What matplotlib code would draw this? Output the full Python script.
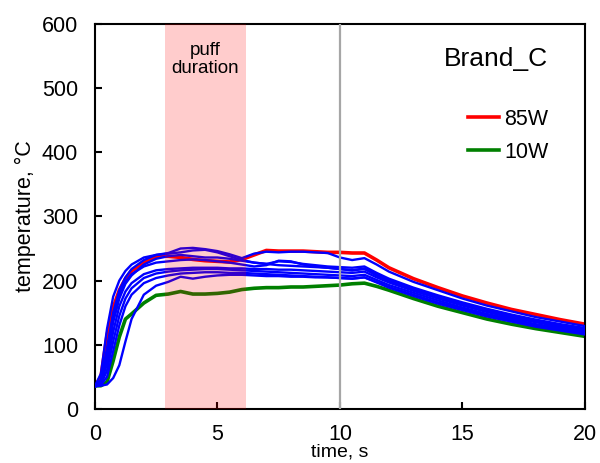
import numpy as np
import matplotlib.pyplot as plt

plt.rcParams['font.family'] = ['Liberation Sans', 'DejaVu Sans']

# time axis, s
time_s = [0, 0.25, 0.5, 0.75, 1, 1.25, 1.5, 2, 2.5, 3, 3.5, 4, 4.5, 5, 5.5, 6,
          6.5, 7, 7.5, 8, 8.5, 9, 9.5, 10, 10.5, 11, 11.5, 12, 13, 14, 15, 16,
          17, 18, 19, 20]

# 85W run (red)
temp_85w = [35, 50, 115, 158, 185, 203, 215, 228, 238, 238, 236, 233, 231, 230, 229, 233,
            240, 247, 246, 246, 246, 245, 244, 244, 243, 243, 232, 220, 203, 189, 176, 165,
            155, 147, 139, 132]

# 10W run (green)
temp_10w = [36, 36, 42, 75, 112, 140, 148, 165, 177, 179, 183, 179, 179, 180, 182, 186,
            188, 189, 189, 190, 190, 191, 192, 193, 195, 196, 191, 185, 172, 160, 150, 140,
            132, 125, 119, 113]

# intermediate power runs (blue)
temp_b1 = [35, 55, 125, 175, 200, 215, 225, 236, 240, 243, 250, 251, 249, 246, 241, 235,
           242, 245, 244, 245, 245, 244, 243, 236, 232, 235, 225, 214, 198, 185, 172, 161,
           152, 143, 136, 129]
temp_b2 = [35, 45, 95, 150, 185, 205, 218, 232, 240, 242, 244, 247, 248, 244, 238, 232,
           228, 226, 230, 229, 226, 224, 222, 221, 220, 222, 212, 203, 189, 177, 166, 156,
           147, 139, 132, 126]
temp_b3 = [35, 42, 80, 135, 172, 195, 208, 225, 234, 238, 240, 238, 236, 236, 234, 231,
           228, 226, 224, 223, 222, 221, 220, 218, 216, 218, 208, 199, 186, 174, 163, 153,
           144, 137, 130, 124]
temp_b4 = [35, 40, 70, 120, 160, 183, 196, 210, 216, 218, 219, 220, 220, 220, 219, 219,
           218, 218, 217, 217, 216, 215, 214, 213, 212, 214, 205, 197, 184, 172, 161, 151,
           142, 135, 128, 122]
temp_b5 = [35, 38, 60, 105, 145, 172, 188, 204, 211, 214, 216, 217, 218, 218, 217, 216,
           215, 214, 213, 212, 211, 210, 209, 208, 207, 209, 201, 193, 181, 169, 158, 148,
           140, 132, 126, 120]
temp_b6 = [35, 37, 50, 90, 130, 160, 178, 196, 204, 208, 211, 212, 213, 213, 212, 212,
           211, 210, 209, 208, 207, 206, 205, 204, 203, 205, 198, 190, 178, 166, 156, 146,
           138, 130, 124, 118]
temp_b7 = [35, 36, 38, 48, 68, 105, 140, 178, 192, 198, 206, 203, 206, 208, 209, 209,
           208, 207, 207, 206, 206, 205, 205, 204, 203, 205, 197, 189, 176, 164, 154, 144,
           136, 128, 122, 116]
temp_b8 = [35, 44, 88, 142, 178, 198, 210, 222, 228, 230, 232, 233, 232, 230, 228, 225,
           222, 224, 231, 230, 225, 222, 220, 218, 216, 219, 210, 201, 187, 175, 164, 154,
           145, 138, 131, 125]
blue_runs = [temp_b1, temp_b2, temp_b3, temp_b4, temp_b5, temp_b6, temp_b7, temp_b8]

PUFF_START, PUFF_END = 2.85, 6.15

fig = plt.figure(figsize=(6, 4.63), dpi=100)
ax = fig.add_axes([0.158, 0.117, 0.817, 0.831])

ax.plot(time_s, temp_85w, color='#FF0000', lw=2.6, label='85W', zorder=2)
ax.plot(time_s, temp_10w, color='#008000', lw=2.6, label='10W', zorder=2)
for run in blue_runs:
    ax.plot(time_s, run, color='#0000FF', lw=1.7, zorder=3)

# zona de la calada, encima de las curvas (translúcida)
ax.axvspan(PUFF_START, PUFF_END, color='#FF0000', alpha=0.2, lw=0, zorder=4)
ax.axvline(10, color='#A6A6A6', lw=1.6, zorder=5)

ax.text((PUFF_START + PUFF_END) / 2, 545, 'puff\nduration', ha='center', va='center',
        fontsize=13.5, linespacing=1.1, zorder=6)
ax.text(16.35, 545, 'Brand_C', ha='center', va='center', fontsize=19, zorder=6)

ax.set_xlim(0, 20)
ax.set_ylim(0, 600)
ax.set_xticks([0, 5, 10, 15, 20])
ax.set_yticks(range(0, 601, 100))
ax.tick_params(direction='in', length=5, width=1.5, labelsize=15.5, pad=11)
ax.tick_params(axis='y', pad=12)
for sp in ax.spines.values():
    sp.set_linewidth(1.5)

ax.set_xlabel('time, s', fontsize=14, labelpad=-1)
ax.set_ylabel('temperature, °C', fontsize=15.5, labelpad=4)

ax.legend(loc='upper right', bbox_to_anchor=(0.965, 0.83), frameon=False, fontsize=15.5,
          handlelength=1.45, handletextpad=0.25, labelspacing=0.55)

fig.savefig('out.png', dpi=100)
